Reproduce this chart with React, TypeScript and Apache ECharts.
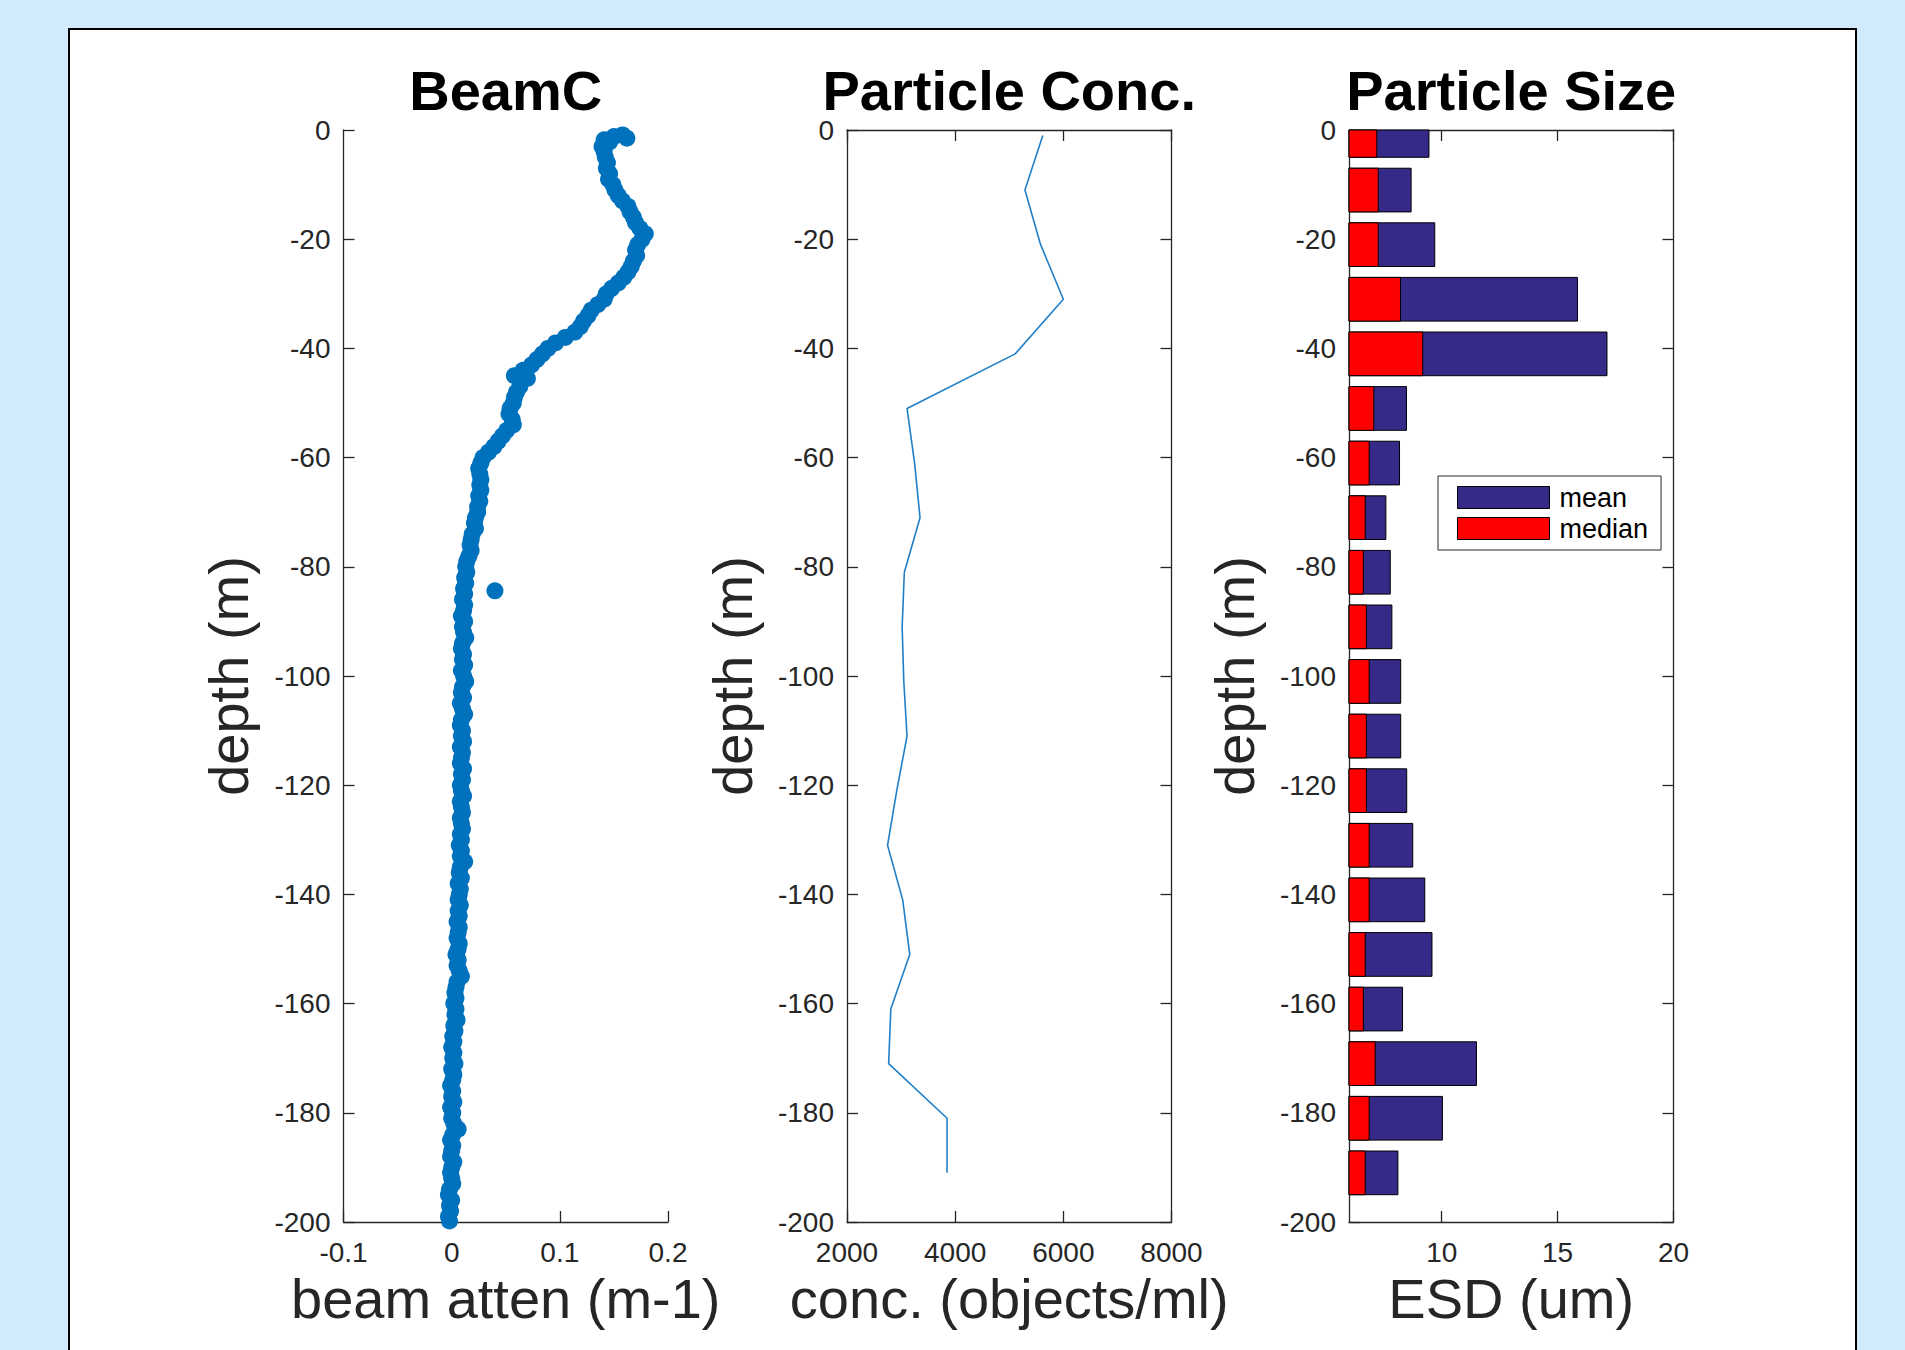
import React, { useEffect, useRef } from 'react';
import * as echarts from 'echarts';

const FONT = "'Liberation Sans', Arial, Helvetica, sans-serif";
const AX = '#262626';

// BeamC profile: [depth (m), beam attenuation (m-1)]
const beamPoints: [number, number][] = [
  [-0.9, 0.158], [-1.2, 0.150], [-1.5, 0.162], [-1.8, 0.141], [-2.2, 0.146],
  [-3, 0.139], [-4, 0.141], [-5, 0.142], [-6, 0.144], [-7, 0.143], [-8, 0.146], [-9, 0.145], [-10, 0.149],
  [-11, 0.151], [-12, 0.154], [-13, 0.158], [-14, 0.163], [-15, 0.165], [-16, 0.168], [-17, 0.170], [-18, 0.174], [-19, 0.179], [-20, 0.176],
  [-21, 0.172], [-22, 0.170], [-23, 0.171], [-24, 0.168], [-25, 0.166], [-26, 0.163], [-27, 0.159], [-28, 0.154], [-29, 0.148], [-30, 0.143],
  [-31, 0.141], [-32, 0.135], [-33, 0.129], [-34, 0.126], [-35, 0.122], [-36, 0.119], [-37, 0.114], [-38, 0.105], [-39, 0.096], [-40, 0.089],
  [-41, 0.084], [-42, 0.079], [-43, 0.074], [-44, 0.066], [-45, 0.058], [-45.5, 0.070], [-46, 0.064], [-47, 0.063], [-48, 0.060], [-49, 0.058], [-50, 0.057],
  [-51, 0.054], [-52, 0.053], [-53, 0.056], [-54, 0.057], [-55, 0.051], [-56, 0.047], [-57, 0.043], [-58, 0.039], [-59, 0.034], [-60, 0.029],
  [-61, 0.027], [-62, 0.025], [-63, 0.026], [-64, 0.027], [-65, 0.026], [-66, 0.027], [-67, 0.025], [-68, 0.026], [-69, 0.024], [-70, 0.024],
  [-71, 0.022], [-72, 0.021], [-73, 0.022], [-74, 0.019], [-75, 0.018], [-76, 0.017], [-77, 0.018], [-78, 0.016], [-79, 0.014], [-80, 0.013],
  [-81, 0.014], [-82, 0.012], [-83, 0.013], [-84, 0.011], [-84.4, 0.040], [-85, 0.012], [-86, 0.010], [-87, 0.012], [-88, 0.011], [-89, 0.009], [-90, 0.012],
  [-91, 0.010], [-92, 0.011], [-93, 0.013], [-94, 0.010], [-95, 0.009], [-96, 0.011], [-97, 0.010], [-98, 0.012], [-99, 0.009], [-100, 0.011],
  [-101, 0.013], [-102, 0.010], [-103, 0.009], [-104, 0.011], [-105, 0.008], [-106, 0.010], [-107, 0.012], [-108, 0.009], [-109, 0.008], [-110, 0.010],
  [-111, 0.009], [-112, 0.011], [-113, 0.008], [-114, 0.010], [-115, 0.009], [-116, 0.008], [-117, 0.011], [-118, 0.009], [-119, 0.010], [-120, 0.008],
  [-121, 0.009], [-122, 0.011], [-123, 0.008], [-124, 0.009], [-125, 0.010], [-126, 0.008], [-127, 0.009], [-128, 0.010], [-129, 0.008], [-130, 0.009],
  [-131, 0.007], [-132, 0.009], [-133, 0.008], [-134, 0.012], [-135, 0.008], [-136, 0.007], [-137, 0.009], [-138, 0.006], [-139, 0.008], [-140, 0.007],
  [-141, 0.006], [-142, 0.008], [-143, 0.006], [-144, 0.007], [-145, 0.005], [-146, 0.007], [-147, 0.006], [-148, 0.005], [-149, 0.007], [-150, 0.006],
  [-151, 0.004], [-152, 0.006], [-153, 0.005], [-154, 0.007], [-155, 0.009], [-156, 0.005], [-157, 0.004], [-158, 0.003], [-159, 0.004], [-160, 0.002],
  [-161, 0.004], [-162, 0.003], [-163, 0.005], [-164, 0.002], [-165, 0.003], [-166, 0.001], [-167, 0.002], [-168, 0.000], [-169, 0.002], [-170, 0.001],
  [-171, 0.003], [-172, 0.000], [-173, 0.002], [-174, 0.001], [-175, -0.001], [-176, 0.001], [-177, 0.000], [-178, 0.002], [-179, -0.001], [-180, 0.001],
  [-181, 0.000], [-182, 0.002], [-183, 0.006], [-184, 0.001], [-185, -0.001], [-186, 0.001], [-187, 0.000], [-188, -0.001], [-189, 0.002], [-190, 0.000],
  [-191, -0.001], [-192, 0.000], [-193, 0.001], [-194, -0.002], [-195, -0.003], [-196, 0.000], [-197, -0.002], [-198, -0.001], [-199, -0.003], [-199.8, -0.002],
];

// Particle concentration profile
const concDepth = [-1, -11, -21, -31, -41, -51, -61, -71, -81, -91, -101, -111, -121, -131, -141, -151, -161, -171, -181, -191];
const concValue = [5620, 5290, 5580, 6000, 5110, 3110, 3250, 3350, 3060, 3020, 3050, 3110, 2920, 2750, 3030, 3160, 2810, 2770, 3850, 3850];

// Particle size (ESD, um) per depth bin
const sizeDepth = [-1, -11, -21, -31, -41, -51, -61, -71, -81, -91, -101, -111, -121, -131, -141, -151, -161, -171, -181, -191];
const sizeMean = [9.45, 8.68, 9.7, 15.86, 17.13, 8.48, 8.18, 7.59, 7.78, 7.85, 8.23, 8.23, 8.49, 8.75, 9.27, 9.58, 8.31, 11.5, 10.03, 8.11];
const sizeMedian = [7.2, 7.26, 7.26, 8.22, 9.18, 7.07, 6.87, 6.7, 6.62, 6.75, 6.87, 6.75, 6.75, 6.87, 6.87, 6.7, 6.62, 7.13, 6.87, 6.7];

const BAR_HALF = 4; // half bar thickness in metres

const GRID_TOP = 130;
const GRID_H = 1092;
const GRID_W = 324.5;
const GRID_LEFTS = [343.5, 847, 1349];

export default function App() {
  const ref = useRef<HTMLDivElement>(null);

  useEffect(() => {
    const chart = echarts.init(ref.current!, null, { renderer: 'svg' });

    const lineStyle = { color: AX, width: 1.3 };
    const tickLabel = { fontSize: 28, color: AX, fontFamily: FONT, lineHeight: 28 };
    const nameStyle = { fontSize: 56, color: AX, fontFamily: FONT, lineHeight: 56 };

    const yLeft = (gridIndex: number) => ({
      type: 'value', gridIndex, min: -200, max: 0, interval: 20, position: 'left',
      name: 'depth (m)', nameLocation: 'middle', nameRotate: 90, nameGap: 87,
      nameTextStyle: nameStyle,
      axisLine: { show: true, onZero: false, lineStyle },
      axisTick: { show: true, inside: true, length: 11, lineStyle },
      axisLabel: { show: true, margin: 13, ...tickLabel, formatter: (v: number) => String(v) },
      splitLine: { show: false },
    });
    const yRight = (gridIndex: number) => ({
      type: 'value', gridIndex, min: -200, max: 0, interval: 20, position: 'right',
      axisLine: { show: true, onZero: false, lineStyle },
      axisTick: { show: true, inside: true, length: 11, lineStyle },
      axisLabel: { show: false },
      splitLine: { show: false },
    });

    const sizeRender = (color: string) => (params: any, api: any) => {
      const d = api.value(0);
      const v = api.value(1);
      const p1 = api.coord([0, d + BAR_HALF]);
      const p2 = api.coord([v, d - BAR_HALF]);
      const cs = params.coordSys;
      const rect = echarts.graphic.clipRectByRect(
        { x: p1[0], y: p1[1], width: p2[0] - p1[0], height: p2[1] - p1[1] },
        { x: cs.x, y: cs.y, width: cs.width, height: cs.height }
      );
      if (!rect) return null;
      return { type: 'rect', shape: rect, style: { fill: color, stroke: '#000', lineWidth: 1 } };
    };

    const option: any = {
      animation: false,
      backgroundColor: '#d1eafc',
      textStyle: { fontFamily: FONT },
      graphic: [
        {
          type: 'rect', z: -10, silent: true,
          shape: { x: 69, y: 29, width: 1787, height: 1400 },
          style: { fill: '#ffffff', stroke: '#000000', lineWidth: 2 },
        },
      ],
      title: [
        { text: 'BeamC', left: GRID_LEFTS[0] + GRID_W / 2 },
        { text: 'Particle Conc.', left: GRID_LEFTS[1] + GRID_W / 2 },
        { text: 'Particle Size', left: GRID_LEFTS[2] + GRID_W / 2 },
      ].map((t) => ({
        ...t, top: 67, padding: 0, textAlign: 'center',
        textStyle: { fontSize: 56, fontWeight: 'bold', color: '#000', fontFamily: FONT, lineHeight: 46 },
      })),
      legend: {
        data: ['mean', 'median'],
        orient: 'vertical',
        left: 1438, top: 476,
        padding: [8, 13, 8, 19],
        itemGap: 4,
        itemWidth: 92, itemHeight: 22,
        icon: 'rect',
        backgroundColor: '#ffffff',
        borderColor: AX, borderWidth: 1, borderRadius: 0,
        itemStyle: { borderColor: '#000', borderWidth: 1 },
        textStyle: { fontSize: 27, color: '#000', fontFamily: FONT, lineHeight: 27, padding: [0, 0, 0, 5] },
        selectedMode: false,
      },
      grid: GRID_LEFTS.map((left) => ({ left, top: GRID_TOP, width: GRID_W, height: GRID_H, containLabel: false })),
      xAxis: [
        {
          type: 'value', gridIndex: 0, min: -0.1, max: 0.2, interval: 0.1, position: 'bottom',
          name: 'beam atten (m-1)', nameLocation: 'middle', nameGap: 45, nameTextStyle: nameStyle,
          axisLine: { show: true, onZero: false, lineStyle },
          axisTick: { show: true, inside: true, length: 11, lineStyle },
          axisLabel: { show: true, margin: 16, ...tickLabel, formatter: (v: number) => String(Math.round(v * 10) / 10) },
          splitLine: { show: false },
        },
        {
          type: 'value', gridIndex: 1, min: 2000, max: 8000, interval: 2000, position: 'bottom',
          name: 'conc. (objects/ml)', nameLocation: 'middle', nameGap: 45, nameTextStyle: nameStyle,
          axisLine: { show: true, onZero: false, lineStyle },
          axisTick: { show: true, inside: true, length: 11, lineStyle },
          axisLabel: { show: true, margin: 16, ...tickLabel, formatter: (v: number) => String(v) },
          splitLine: { show: false },
        },
        {
          type: 'value', gridIndex: 1, min: 2000, max: 8000, interval: 2000, position: 'top',
          axisLine: { show: true, onZero: false, lineStyle },
          axisTick: { show: true, inside: true, length: 11, lineStyle },
          axisLabel: { show: false },
          splitLine: { show: false },
        },
        {
          type: 'value', gridIndex: 2, min: 6, max: 20, splitNumber: 3, position: 'bottom',
          name: 'ESD (um)', nameLocation: 'middle', nameGap: 45, nameTextStyle: nameStyle,
          axisLine: { show: true, onZero: false, lineStyle },
          axisTick: { show: true, inside: true, length: 11, lineStyle },
          axisLabel: { show: true, margin: 16, showMinLabel: false, ...tickLabel, formatter: (v: number) => String(v) },
          splitLine: { show: false },
        },
        {
          type: 'value', gridIndex: 2, min: 6, max: 20, splitNumber: 3, position: 'top',
          axisLine: { show: true, onZero: false, lineStyle },
          axisTick: { show: true, inside: true, length: 11, lineStyle },
          axisLabel: { show: false },
          splitLine: { show: false },
        },
      ],
      yAxis: [yLeft(0), yLeft(1), yRight(1), yLeft(2), yRight(2)],
      series: [
        {
          name: 'BeamC', type: 'scatter', xAxisIndex: 0, yAxisIndex: 0,
          symbol: 'circle', symbolSize: 17, clip: false,
          itemStyle: { color: '#0072BD', opacity: 1 },
          data: beamPoints.map(([d, v]) => [v, d]),
        },
        {
          name: 'conc', type: 'line', xAxisIndex: 1, yAxisIndex: 1,
          showSymbol: false, symbol: 'none',
          lineStyle: { color: '#1f7fc8', width: 1.6 },
          data: concDepth.map((d, i) => [concValue[i], d]),
        },
        {
          name: 'mean', type: 'custom', xAxisIndex: 3, yAxisIndex: 3,
          itemStyle: { color: '#352a87', borderColor: '#000', borderWidth: 1 },
          encode: { x: 1, y: 0 },
          renderItem: sizeRender('#352a87'),
          data: sizeDepth.map((d, i) => [d, sizeMean[i]]),
        },
        {
          name: 'median', type: 'custom', xAxisIndex: 3, yAxisIndex: 3,
          itemStyle: { color: '#ff0000', borderColor: '#000', borderWidth: 1 },
          encode: { x: 1, y: 0 },
          renderItem: sizeRender('#ff0000'),
          data: sizeDepth.map((d, i) => [d, sizeMedian[i]]),
        },
      ],
    };

    chart.setOption(option);
    return () => chart.dispose();
  }, []);

  return <div ref={ref} style={{ position: 'absolute', left: 0, top: 0, width: 1905, height: 1350 }} />;
}
